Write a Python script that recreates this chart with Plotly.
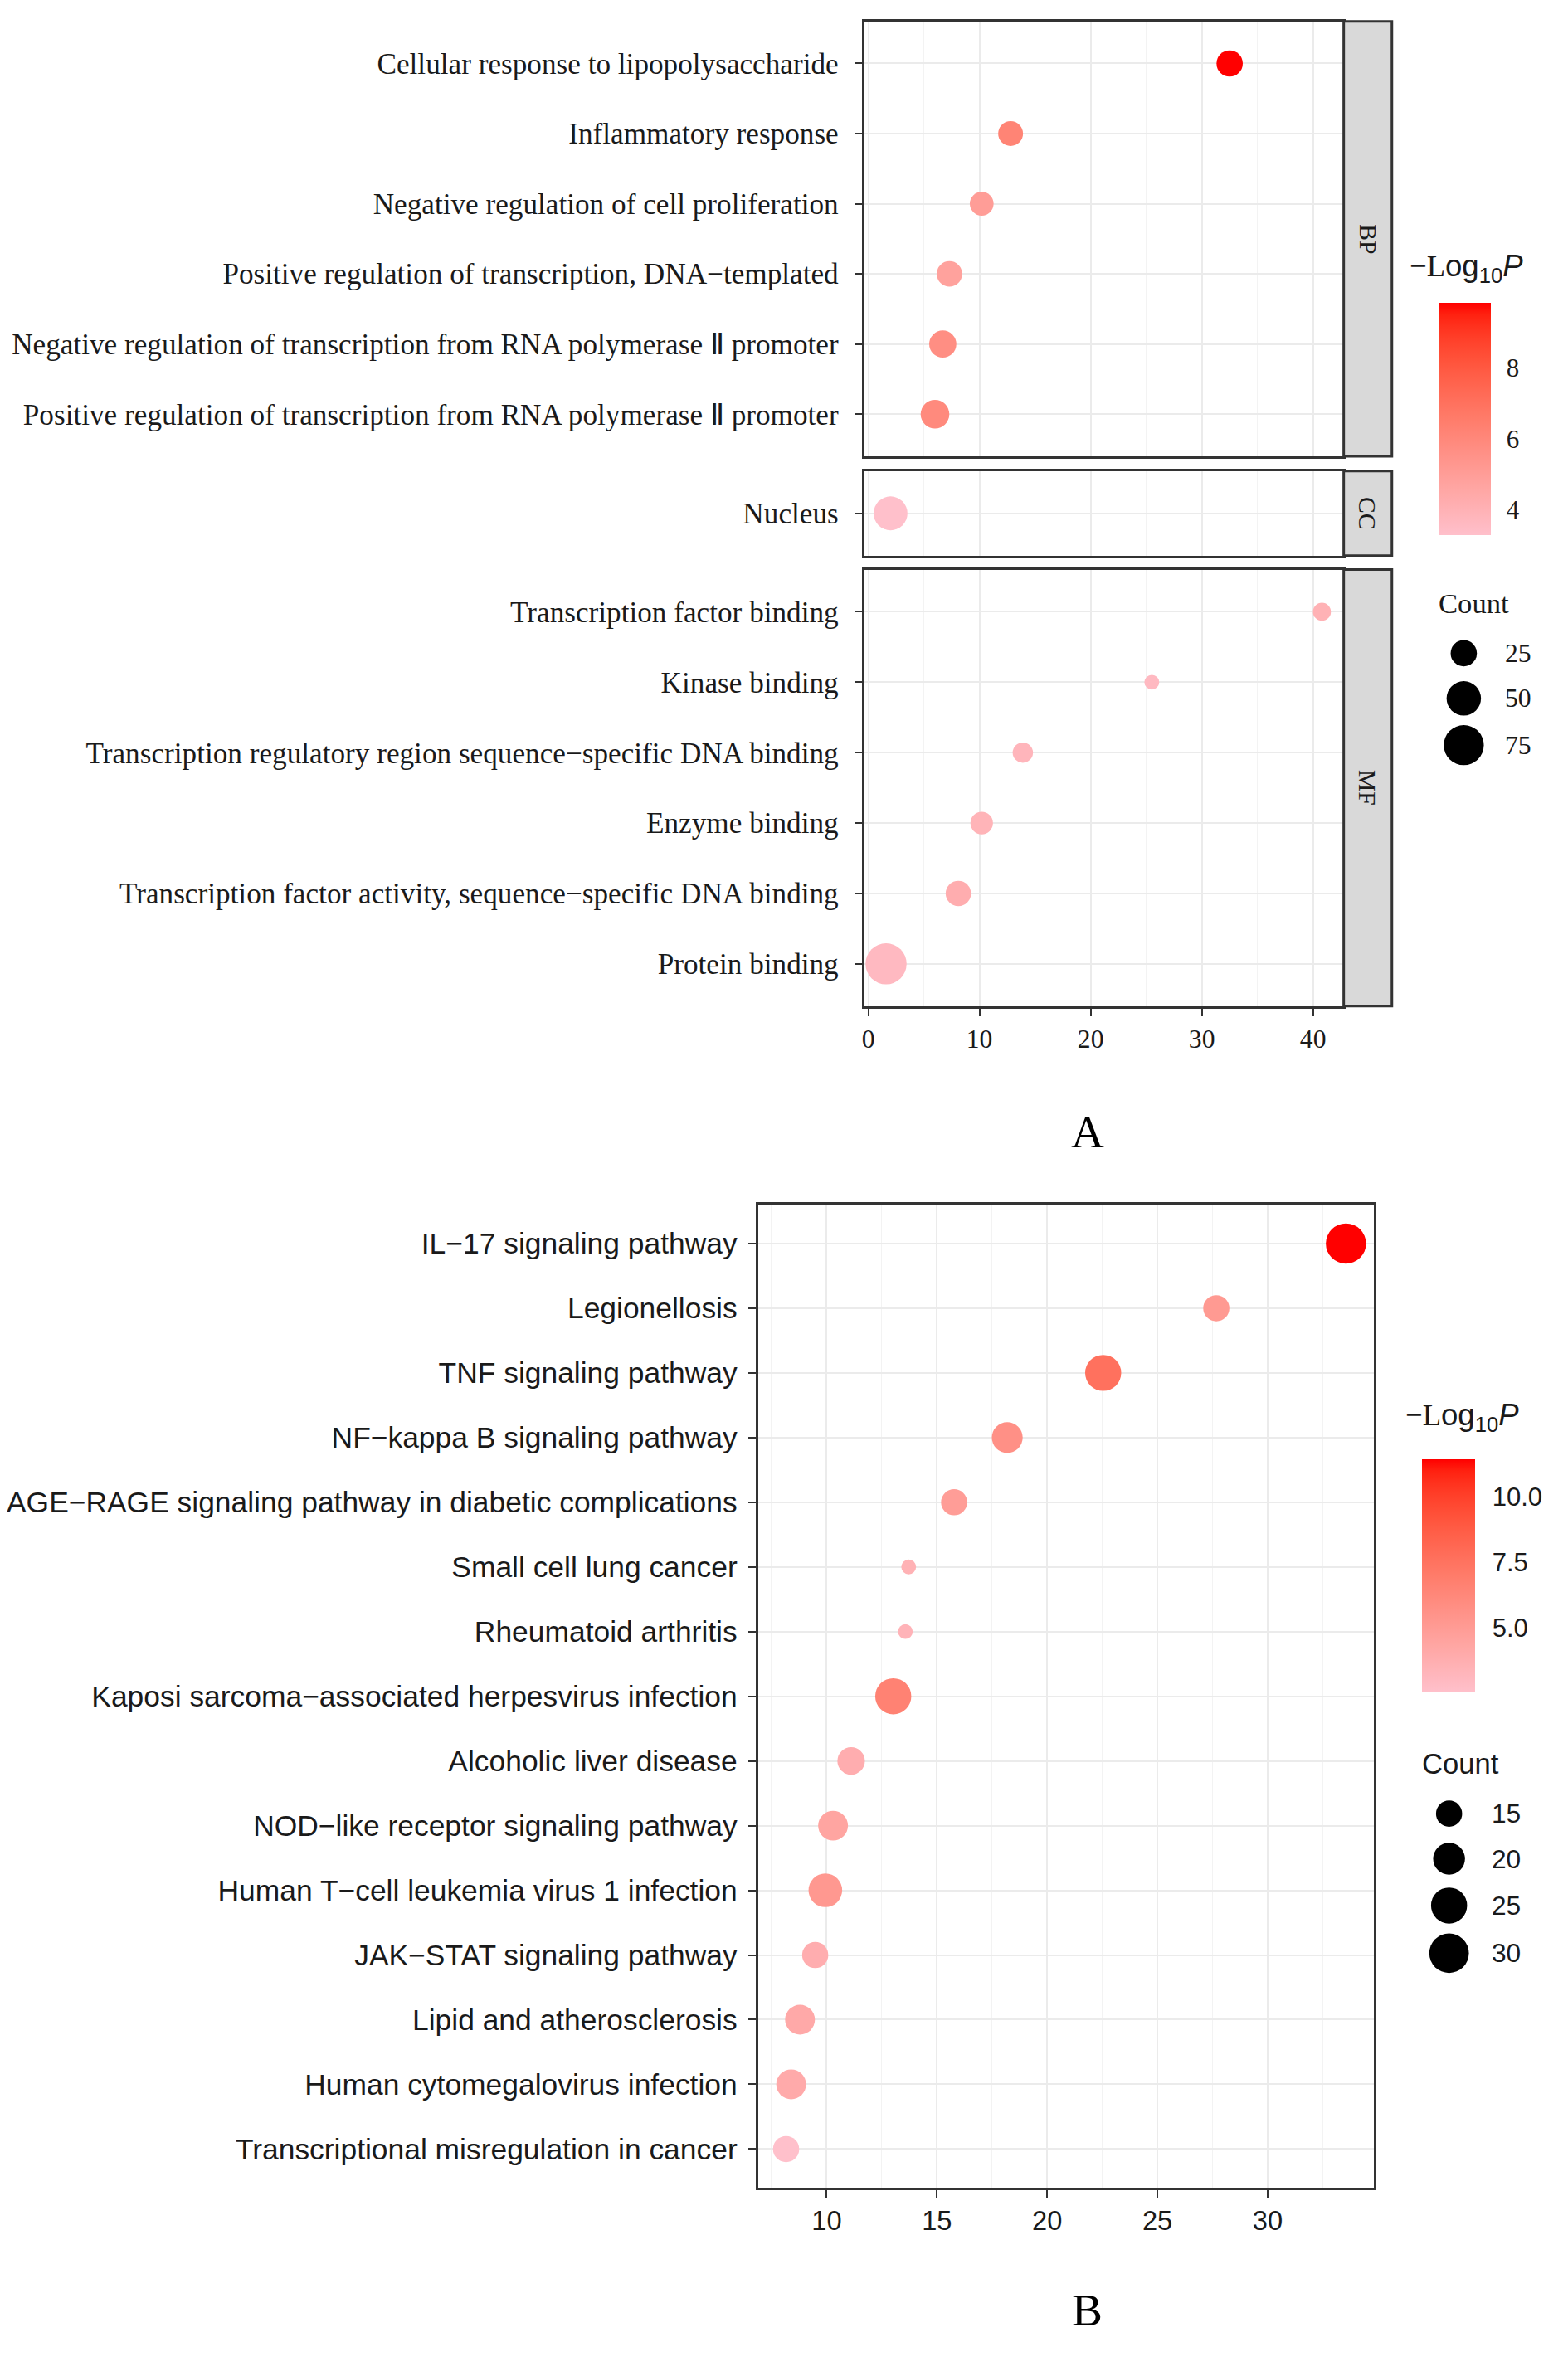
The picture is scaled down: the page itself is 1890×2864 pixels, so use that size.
import plotly.graph_objects as go

W, H = 1890, 2864

# ---------------- Panel A (GO enrichment) data ----------------
bp_terms = ["Cellular response to lipopolysaccharide",
            "Inflammatory response",
            "Negative regulation of cell proliferation",
            "Positive regulation of transcription, DNA−templated",
            "Negative regulation of transcription from RNA polymerase Ⅱ promoter",
            "Positive regulation of transcription from RNA polymerase Ⅱ promoter"]
bp_x = [32.5, 12.8, 10.2, 7.3, 6.7, 6.0]
bp_logp = [9.83, 6.2, 5.0, 4.8, 5.7, 5.9]
bp_count = [25, 22, 20, 23, 27, 31]

cc_terms = ["Nucleus"]
cc_x = [2.0]
cc_logp = [3.28]
cc_count = [48]

mf_terms = ["Transcription factor binding",
            "Kinase binding",
            "Transcription regulatory region sequence−specific DNA binding",
            "Enzyme binding",
            "Transcription factor activity, sequence−specific DNA binding",
            "Protein binding"]
mf_x = [40.8, 25.5, 13.9, 10.2, 8.1, 1.6]
mf_logp = [4.0, 3.6, 3.8, 3.9, 4.2, 3.6]
mf_count = [13, 12, 15, 18, 23, 80]

a_facets = ["BP", "CC", "MF"]
a_x_ticks = [0, 10, 20, 30, 40]
a_cb_ticks = [4, 6, 8]
a_count_breaks = [25, 50, 75]

# ---------------- Panel B (KEGG) data ----------------
kegg_terms = ["IL−17 signaling pathway",
              "Legionellosis",
              "TNF signaling pathway",
              "NF−kappa B signaling pathway",
              "AGE−RAGE signaling pathway in diabetic complications",
              "Small cell lung cancer",
              "Rheumatoid arthritis",
              "Kaposi sarcoma−associated herpesvirus infection",
              "Alcoholic liver disease",
              "NOD−like receptor signaling pathway",
              "Human T−cell leukemia virus 1 infection",
              "JAK−STAT signaling pathway",
              "Lipid and atherosclerosis",
              "Human cytomegalovirus infection",
              "Transcriptional misregulation in cancer"]
kegg_x = [33.55, 27.67, 22.54, 18.19, 15.78, 13.72, 13.57, 13.02, 11.11, 10.29, 9.94, 9.48, 8.79, 8.39, 8.16]
kegg_logp = [11.43, 5.1, 7.6, 5.7, 4.9, 3.5, 3.4, 6.6, 3.8, 4.4, 5.2, 3.8, 4.1, 4.0, 2.54]
kegg_count = [31, 15, 25, 19, 15, 11, 11, 25, 16, 18, 22, 15, 18, 18, 15]

b_x_ticks = [10, 15, 20, 25, 30]
b_cb_ticks = [5.0, 7.5, 10.0]
b_count_breaks = [15, 20, 25, 30]

panel_labels = ["A", "B"]

# ---------------- colour scale (pink -> red, interpolated in CIELAB like ggplot) ----------------
def _lin(c):
    c = c / 255.0
    return c / 12.92 if c <= 0.04045 else ((c + 0.055) / 1.055) ** 2.4

def _unlin(c):
    c = max(0.0, min(1.0, c))
    v = 12.92 * c if c <= 0.0031308 else 1.055 * c ** (1 / 2.4) - 0.055
    return int(round(max(0, min(1, v)) * 255))

def rgb2lab(rgb):
    r, g, b = [_lin(v) for v in rgb]
    X = (0.4124 * r + 0.3576 * g + 0.1805 * b) / 0.95047
    Y = (0.2126 * r + 0.7152 * g + 0.0722 * b)
    Z = (0.0193 * r + 0.1192 * g + 0.9505 * b) / 1.08883
    f = lambda t: t ** (1 / 3) if t > 0.008856 else 7.787 * t + 16 / 116
    fx, fy, fz = f(X), f(Y), f(Z)
    return (116 * fy - 16, 500 * (fx - fy), 200 * (fy - fz))

def lab2rgb(lab):
    L, a, b = lab
    fy = (L + 16) / 116
    fx = fy + a / 500
    fz = fy - b / 200
    finv = lambda t: t ** 3 if t ** 3 > 0.008856 else (t - 16 / 116) / 7.787
    X, Y, Z = finv(fx) * 0.95047, finv(fy), finv(fz) * 1.08883
    r = 3.2406 * X - 1.5372 * Y - 0.4986 * Z
    g = -0.9689 * X + 1.8758 * Y + 0.0415 * Z
    bb = 0.0557 * X - 0.2040 * Y + 1.0570 * Z
    return tuple(_unlin(v) for v in (r, g, bb))

LOW, HIGH = (255, 192, 203), (255, 0, 0)
la, lb = rgb2lab(LOW), rgb2lab(HIGH)
NSTOP = 20
colorscale = []
for i in range(NSTOP + 1):
    t = i / NSTOP
    c = lab2rgb(tuple(la[k] + (lb[k] - la[k]) * t for k in range(3)))
    colorscale.append([t, "rgb(%d,%d,%d)" % c])

# ---------------- layout constants ----------------
K = 0.9892      # rescale for coarse page measurements
MARGIN = 8      # page body margin

def P(v):       # coarse measurement -> figure pixel
    return v * K - MARGIN

def Q(v):       # exact page pixel -> figure pixel
    return v - MARGIN

def px(x):
    return P(x) / W

def py(y):
    return 1 - P(y) / H

def qx(x):
    return Q(x) / W

def qy(y):
    return 1 - Q(y) / H

def S(v):
    return v * K

A_LEFT, A_RIGHT = 1049, 1636
A_ROWS = {"BP": (26, 556), "CC": (574, 677), "MF": (694, 1226)}
STRIP_R = 1695
B_LEFT, B_RIGHT, B_TOP, B_BOTTOM = 919, 1673, 1468, 2666

SERIF = "Liberation Serif"
SANS = "Liberation Sans"
TXT = "#1A1A1A"
LINE = "#333333"
GRID = "#EBEBEB"
GRID_MINOR = "#F3F3F3"

a_all_x = bp_x + cc_x + mf_x
a_all_logp = bp_logp + cc_logp + mf_logp
a_all_count = bp_count + cc_count + mf_count
a_span = max(a_all_x) - min(a_all_x)
a_range = [min(a_all_x) - 0.05 * a_span, max(a_all_x) + 0.05 * a_span]
b_span = max(kegg_x) - min(kegg_x)
b_range = [min(kegg_x) - 0.05 * b_span, max(kegg_x) + 0.05 * b_span]

# size scales (area based, like ggplot scale_size)
def make_size(cmin, cmax, dmin, dmax):
    def f(c):
        return S(dmin + (dmax - dmin) * ((c - cmin) / (cmax - cmin)) ** 0.5)
    return f

size_a = make_size(min(a_all_count), max(a_all_count), 18, 50)
size_b = make_size(min(kegg_count), max(kegg_count), 18, 49)

fig = go.Figure()

panels = [
    ("BP", bp_terms, bp_x, bp_logp, bp_count, "x", "y"),
    ("CC", cc_terms, cc_x, cc_logp, cc_count, "x2", "y2"),
    ("MF", mf_terms, mf_x, mf_logp, mf_count, "x3", "y3"),
]
for name, terms, xs, lp, cnt, xa, ya in panels:
    fig.add_trace(go.Scatter(
        x=xs, y=terms, mode="markers", xaxis=xa, yaxis=ya,
        marker=dict(size=[size_a(c) for c in cnt], sizemode="diameter",
                    color=lp, coloraxis="coloraxis", line=dict(width=0), opacity=1),
        showlegend=False, hoverinfo="skip"))

fig.add_trace(go.Scatter(
    x=kegg_x, y=kegg_terms, mode="markers", xaxis="x4", yaxis="y4",
    marker=dict(size=[size_b(c) for c in kegg_count], sizemode="diameter",
                color=kegg_logp, coloraxis="coloraxis2", line=dict(width=0), opacity=1),
    showlegend=False, hoverinfo="skip"))

# ---------------- axes ----------------
def xaxis_common(rng, ticks, minor, show_labels, font):
    return dict(range=rng, tickvals=ticks, ticktext=[str(t) for t in ticks],
                showgrid=True, gridcolor=GRID, gridwidth=2,
                minor=dict(dtick=minor, tick0=0, showgrid=True, gridcolor=GRID_MINOR, gridwidth=1, ticks=""),
                showline=True, mirror=True, linecolor=LINE, linewidth=3,
                zeroline=False, ticks="outside" if show_labels else "", ticklen=9, tickwidth=2,
                tickcolor=LINE, showticklabels=show_labels, tickfont=font, fixedrange=True)

def yaxis_common(terms, dom, font, standoff):
    n = len(terms)
    return dict(domain=dom, type="category", categoryorder="array", categoryarray=terms,
                range=[n - 0.4, -0.6], showgrid=True, gridcolor=GRID, gridwidth=2,
                showline=True, mirror=True, linecolor=LINE, linewidth=3, zeroline=False,
                ticks="outside", ticklen=9, tickwidth=2, tickcolor=LINE,
                tickfont=font, ticklabelstandoff=standoff, fixedrange=True)

afont_y = dict(family=SERIF, size=S(35.6), color=TXT)
afont_x = dict(family=SERIF, size=S(32), color=TXT)
bfont_y = dict(family=SANS, size=S(35.8), color=TXT)
bfont_x = dict(family=SANS, size=S(33), color=TXT)

ax_dom = [px(A_LEFT), px(A_RIGHT)]
lay = {}
for i, (name, terms) in enumerate(zip(a_facets, [bp_terms, cc_terms, mf_terms])):
    sfx = "" if i == 0 else str(i + 1)
    top, bot = A_ROWS[name]
    xa = xaxis_common(a_range, a_x_ticks, 5, i == 2, afont_x)
    xa.update(domain=ax_dom, anchor="y" + sfx)
    lay["xaxis" + sfx] = xa
    ya = yaxis_common(terms, [py(bot), py(top)], afont_y, 12)
    ya.update(anchor="x" + sfx)
    lay["yaxis" + sfx] = ya

xb = xaxis_common(b_range, b_x_ticks, 2.5, True, bfont_x)
xb.update(domain=[px(B_LEFT), px(B_RIGHT)], anchor="y4")
lay["xaxis4"] = xb
yb = yaxis_common(kegg_terms, [py(B_BOTTOM), py(B_TOP)], bfont_y, 6)
yb.update(anchor="x4")
lay["yaxis4"] = yb

# overlay axis in figure pixels for the size legends
lay["xaxis5"] = dict(domain=[0, 1], range=[0, W], visible=False, fixedrange=True, anchor="y5")
lay["yaxis5"] = dict(domain=[0, 1], range=[H, 0], visible=False, fixedrange=True, anchor="x5")

# ---------------- colour bars (exact page pixels) ----------------
A_CB = dict(left=1734, top=365, bottom=645, thick=62, gap=13)
B_CB = dict(left=1713, top=1759, bottom=2040, thick=64, gap=15)

def cbar(cb, ticks, fmt, font):
    return dict(x=qx(cb["left"]), xanchor="left", xpad=0, ypad=0,
                y=qy((cb["top"] + cb["bottom"]) / 2), yanchor="middle",
                len=cb["bottom"] - cb["top"], lenmode="pixels",
                thickness=cb["thick"], thicknessmode="pixels",
                outlinewidth=0, tickvals=ticks, ticktext=[fmt.format(t) for t in ticks],
                ticks="outside", ticklen=cb["gap"], tickwidth=2, tickcolor="rgba(0,0,0,0)",
                tickfont=font)

lay["coloraxis"] = dict(colorscale=colorscale, cmin=min(a_all_logp), cmax=max(a_all_logp),
                        colorbar=cbar(A_CB, a_cb_ticks, "{:d}", dict(family=SERIF, size=31, color=TXT)))
lay["coloraxis2"] = dict(colorscale=colorscale, cmin=min(kegg_logp), cmax=max(kegg_logp),
                         colorbar=cbar(B_CB, b_cb_ticks, "{:.1f}", dict(family=SANS, size=31, color=TXT)))

shapes = []
# white tick marks on both edges of the colour bars
for cb, ticks, vals in [(A_CB, a_cb_ticks, a_all_logp), (B_CB, b_cb_ticks, kegg_logp)]:
    lo, hi = min(vals), max(vals)
    for t in ticks:
        yy = cb["bottom"] - (t - lo) / (hi - lo) * (cb["bottom"] - cb["top"])
        for x0, x1 in [(cb["left"], cb["left"] + 13),
                       (cb["left"] + cb["thick"] - 13, cb["left"] + cb["thick"])]:
            shapes.append(dict(type="line", xref="paper", yref="paper",
                               x0=qx(x0), x1=qx(x1), y0=qy(yy), y1=qy(yy),
                               line=dict(color="white", width=2), layer="above"))

# facet strips
annotations = []
for name in a_facets:
    top, bot = A_ROWS[name]
    shapes.append(dict(type="rect", xref="paper", yref="paper",
                       x0=px(A_RIGHT), x1=px(STRIP_R), y0=py(bot), y1=py(top),
                       fillcolor="#D9D9D9", line=dict(color=LINE, width=3), layer="above"))
    annotations.append(dict(text=name, xref="paper", yref="paper",
                            x=px((A_RIGHT + STRIP_R) / 2), y=py((top + bot) / 2),
                            textangle=90, showarrow=False, xanchor="center", yanchor="middle",
                            font=dict(family=SERIF, size=S(30), color=TXT)))

# legend titles
title_txt = "<span style=\"font-family:Liberation Serif\">−L</span>og<sub>10</sub><i>P</i>"
annotations.append(dict(text=title_txt, xref="paper", yref="paper", x=px(1715), y=py(327),
                        xanchor="left", yanchor="middle", showarrow=False,
                        font=dict(family=SANS, size=S(37), color=TXT)))
annotations.append(dict(text=title_txt, xref="paper", yref="paper", x=px(1709), y=py(1727),
                        xanchor="left", yanchor="middle", showarrow=False,
                        font=dict(family=SANS, size=S(37), color=TXT)))
annotations.append(dict(text="Count", xref="paper", yref="paper", x=px(1750), y=py(735),
                        xanchor="left", yanchor="middle", showarrow=False,
                        font=dict(family=SERIF, size=S(35), color=TXT)))
annotations.append(dict(text="Count", xref="paper", yref="paper", x=px(1730), y=py(2149),
                        xanchor="left", yanchor="middle", showarrow=False,
                        font=dict(family=SANS, size=S(35), color=TXT)))

# size legends
A_LEG = dict(cx=1783, ys=[796, 851, 908], lx=1831)
B_LEG = dict(cx=1765, ys=[2210, 2265, 2322, 2380], lx=1815)
for leg, breaks, sfn, fam, fs in [(A_LEG, a_count_breaks, size_a, SERIF, 32),
                                  (B_LEG, b_count_breaks, size_b, SANS, 32)]:
    fig.add_trace(go.Scatter(
        x=[P(leg["cx"])] * len(breaks), y=[P(v) for v in leg["ys"]], mode="markers",
        xaxis="x5", yaxis="y5",
        marker=dict(size=[sfn(c) for c in breaks], sizemode="diameter", color="black",
                    opacity=1, line=dict(width=0)),
        showlegend=False, hoverinfo="skip"))
    for yy, b in zip(leg["ys"], breaks):
        annotations.append(dict(text=str(b), xref="paper", yref="paper", x=px(leg["lx"]), y=py(yy),
                                xanchor="left", yanchor="middle", showarrow=False,
                                font=dict(family=fam, size=S(fs), color=TXT)))

# panel letters
for lab, yy in zip(panel_labels, [1379, 2815]):
    annotations.append(dict(text=lab, xref="paper", yref="paper", x=px(1322), y=py(yy),
                            xanchor="center", yanchor="middle", showarrow=False,
                            font=dict(family=SERIF, size=S(56), color="black")))

fig.update_layout(width=W, height=H, margin=dict(l=0, r=0, t=0, b=0), autosize=False,
                  paper_bgcolor="white", plot_bgcolor="rgba(0,0,0,0)",
                  shapes=shapes, annotations=annotations, showlegend=False, **lay)

fig.write_html("out.html")
